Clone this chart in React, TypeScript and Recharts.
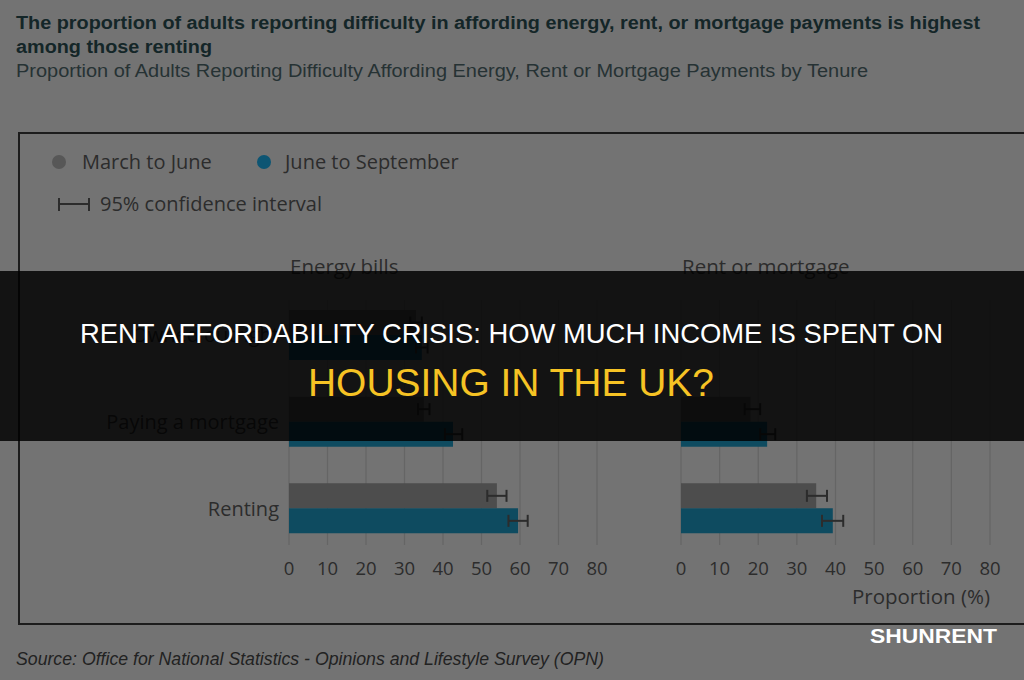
import { Bar, BarChart, CartesianGrid, ErrorBar, XAxis, YAxis } from 'recharts'

const tenures = ['Owned outright', 'Paying a mortgage', 'Renting']
const xTicks = [0, 10, 20, 30, 40, 50, 60, 70, 80]

// Energy bills panel
const energyMarJun = [33, 35, 54]
const energyMarJunLow = [31.5, 33.5, 51.5]
const energyMarJunHigh = [34.5, 36.5, 56.5]
const energyJunSep = [34.5, 42.6, 59.5]
const energyJunSepLow = [33, 40.5, 57]
const energyJunSepHigh = [36, 45, 62]

// Rent or mortgage panel (no value for those owning outright)
const rentMarJun = [null, 18, 35]
const rentMarJunLow = [null, 16.5, 32.6]
const rentMarJunHigh = [null, 20.5, 37.8]
const rentJunSep = [null, 22.3, 39.3]
const rentJunSepLow = [null, 20.5, 36.5]
const rentJunSepHigh = [null, 24.4, 42]

const GREY = '#4d4d4d'
const TEAL = '#0e4b60'
const TEXT = '#2c2c2c'

const err = (v, lo, hi) => (v == null ? null : [v - lo, hi - v])

const buildRows = (marJun, marLo, marHi, junSep, junLo, junHi) =>
  tenures.map((tenure, i) => ({
    tenure,
    marJun: marJun[i],
    junSep: junSep[i],
    marJunErr: err(marJun[i], marLo[i], marHi[i]),
    junSepErr: err(junSep[i], junLo[i], junHi[i]),
  }))

const energyRows = buildRows(energyMarJun, energyMarJunLow, energyMarJunHigh, energyJunSep, energyJunSepLow, energyJunSepHigh)
const rentRows = buildRows(rentMarJun, rentMarJunLow, rentMarJunHigh, rentJunSep, rentJunSepLow, rentJunSepHigh)

const Panel = ({ rows, left, width, yWidth, marginLeft, marginRight, xLabel }) => (
  <div style={{ position: 'absolute', left, top: 280 }}>
    <BarChart
      width={width}
      height={330}
      data={rows}
      layout="vertical"
      barSize={25}
      barGap={0}
      margin={{ top: 12, right: marginRight, left: marginLeft, bottom: xLabel ? 6 : 6 }}
    >
      <CartesianGrid horizontal={false} stroke="#656565" strokeWidth={1.2} y={20} height={245} />
      <XAxis
        type="number"
        domain={[0, 80]}
        ticks={xTicks}
        axisLine={false}
        tickLine={false}
        tickMargin={4}
        height={52}
        interval={0}
        tick={{ fontSize: 18.5, fill: TEXT, fontFamily: 'Open Sans' }}
        label={
          xLabel
            ? { value: xLabel, position: 'insideBottomRight', offset: 0, fontSize: 20.5, fill: TEXT, fontFamily: 'Open Sans' }
            : undefined
        }
      />
      <YAxis
        type="category"
        dataKey="tenure"
        width={yWidth}
        hide={yWidth === 0}
        axisLine={false}
        tickLine={false}
        tickMargin={4}
        tick={{ fontSize: 20, fill: TEXT, fontFamily: 'Open Sans' }}
      />
      <Bar dataKey="marJun" fill={GREY} isAnimationActive={false}>
        <ErrorBar dataKey="marJunErr" direction="x" width={6} stroke={TEXT} strokeWidth={2} isAnimationActive={false} />
      </Bar>
      <Bar dataKey="junSep" fill={TEAL} isAnimationActive={false}>
        <ErrorBar dataKey="junSepErr" direction="x" width={6} stroke={TEXT} strokeWidth={2} isAnimationActive={false} />
      </Bar>
    </BarChart>
  </div>
)

export default function App() {
  return (
    <div
      style={{
        position: 'fixed',
        left: 0,
        top: 0,
        width: 1024,
        height: 680,
        overflow: 'hidden',
        background: '#737373',
        fontFamily: 'Open Sans',
      }}
    >
      <svg width={1024} height={680} style={{ position: 'absolute', left: 0, top: 0 }}>
        <text x={16} y={29} fill="#142628" fontSize={18} fontWeight="bold" fontFamily="Liberation Sans Narrow, Liberation Sans" textLength={964} lengthAdjust="spacingAndGlyphs">
          The proportion of adults reporting difficulty in affording energy, rent, or mortgage payments is highest
        </text>
        <text x={16} y={53} fill="#142628" fontSize={18} fontWeight="bold" fontFamily="Liberation Sans Narrow, Liberation Sans" textLength={196} lengthAdjust="spacingAndGlyphs">
          among those renting
        </text>
        <text x={16} y={77} fill="#263234" fontSize={18} fontFamily="Liberation Sans Narrow, Liberation Sans" textLength={852} lengthAdjust="spacingAndGlyphs">
          Proportion of Adults Reporting Difficulty Affording Energy, Rent or Mortgage Payments by Tenure
        </text>

        <rect x={19} y={133} width={1100} height={491} fill="none" stroke="#1c1c1c" strokeWidth={2} />

        <circle cx={59} cy={162} r={7} fill="#575757" />
        <text x={82} y={169} fill={TEXT} fontSize={20} fontFamily="Open Sans">March to June</text>
        <circle cx={264} cy={162} r={7} fill="#0d5573" />
        <text x={285} y={169} fill={TEXT} fontSize={20} fontFamily="Open Sans">June to September</text>
        <g stroke={TEXT} strokeWidth={2}>
          <line x1={58} y1={204} x2={90} y2={204} />
          <line x1={59} y1={198} x2={59} y2={211} />
          <line x1={89} y1={198} x2={89} y2={211} />
        </g>
        <text x={100} y={211} fill={TEXT} fontSize={20} fontFamily="Open Sans">95% confidence interval</text>

        <text x={290} y={274} fill={TEXT} fontSize={20.5} fontFamily="Open Sans">Energy bills</text>
        <text x={682} y={274} fill={TEXT} fontSize={20.5} fontFamily="Open Sans">Rent or mortgage</text>

        <text x={16} y={665} fill="#222" fontSize={17.5} fontStyle="italic" fontFamily="Liberation Sans Narrow, Liberation Sans" textLength={588} lengthAdjust="spacingAndGlyphs">
          Source: Office for National Statistics - Opinions and Lifestyle Survey (OPN)
        </text>
      </svg>

      <Panel rows={energyRows} left={90} width={530} yWidth={199} marginLeft={0} marginRight={23} xLabel={null} />
      <Panel rows={rentRows} left={670} width={354} yWidth={0} marginLeft={11} marginRight={34} xLabel="Proportion (%)" />

      <div
        style={{
          position: 'absolute',
          left: 0,
          top: 271,
          width: 1024,
          height: 170,
          background: 'rgba(0,0,0,0.83)',
        }}
      />

      <svg width={1024} height={680} style={{ position: 'absolute', left: 0, top: 0 }}>
        <text x={80} y={343} fill="#ffffff" fontSize={28} fontFamily="Liberation Sans" textLength={863} lengthAdjust="spacingAndGlyphs">
          RENT AFFORDABILITY CRISIS: HOW MUCH INCOME IS SPENT ON
        </text>
        <text x={308} y={396} fill="#f6c324" fontSize={38} fontFamily="Liberation Sans" textLength={406} lengthAdjust="spacingAndGlyphs">
          HOUSING IN THE UK?
        </text>
        <text x={870} y={643} fill="#ffffff" fontSize={20} fontWeight="bold" fontFamily="Liberation Sans" textLength={127} lengthAdjust="spacingAndGlyphs">
          SHUNRENT
        </text>
      </svg>
    </div>
  )
}
